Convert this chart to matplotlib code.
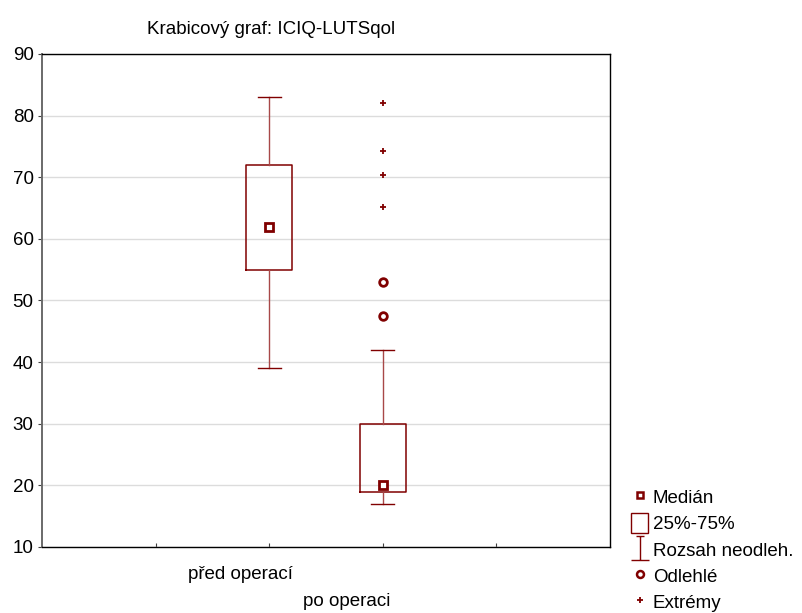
import matplotlib
matplotlib.use("Agg")
import matplotlib.pyplot as plt
from matplotlib.lines import Line2D
from matplotlib.patches import Patch
from matplotlib.path import Path

plt.rcParams["font.family"] = ["Liberation Sans", "DejaVu Sans"]
FS = 13.5
plt.rcParams["font.size"] = FS

RED = "#800000"

groups = ["před operací", "po operaci"]
positions = [2, 3]
medians = [62, 20]
q1 = [55, 19]
q3 = [72, 30]
whis_lo = [39, 17]
whis_hi = [83, 42]
outliers = [[], [53, 47.4]]
extremes = [[], [82, 74.2, 70.4, 65.2]]
label_shift = [-0.25, -0.32]
label_y = [-0.055, -0.11]

fig = plt.figure(figsize=(8.02, 6.13), dpi=100)
ax = fig.add_axes([0.0524, 0.1077, 0.7082, 0.8043])

stats = []
for i, g in enumerate(groups):
    stats.append(dict(label=g, med=medians[i], q1=q1[i], q3=q3[i],
                      whislo=whis_lo[i], whishi=whis_hi[i], fliers=[]))

ax.bxp(stats, positions=positions, widths=0.4, capwidths=0.2,
       showfliers=False,
       boxprops=dict(color=RED, linewidth=1.1),
       whiskerprops=dict(color="#a84848", linewidth=1.0),
       capprops=dict(color=RED, linewidth=1.0),
       medianprops=dict(visible=False), zorder=3)

# median markers
ax.plot(positions, medians, "s", ms=5.5, mfc="white", mec=RED, mew=2.0,
        ls="none", zorder=4)

for p, vals in zip(positions, outliers):
    ax.plot([p] * len(vals), vals, "o", ms=5.5, mfc="white", mec=RED,
            mew=2.0, ls="none", zorder=4)
for p, vals in zip(positions, extremes):
    ax.plot([p] * len(vals), vals, "+", ms=5, mec=RED, mew=1.3,
            ls="none", zorder=4)

ax.set_xlim(0, 5)
ax.set_ylim(10, 90)
ax.set_yticks(range(10, 91, 10))
ax.set_xticks([1, 2, 3, 4])
ax.set_xticklabels([])
ax.tick_params(axis="x", direction="in", length=3, color="#404040")
ax.tick_params(axis="y", direction="out", length=3, color="#404040",
               labelsize=FS, pad=3)
ax.yaxis.grid(True, color="#dcdcdc", linewidth=1.0)
ax.set_axisbelow(True)

for side in ["top", "right", "bottom"]:
    ax.spines[side].set_color("black")
    ax.spines[side].set_linewidth(1.0)
ax.spines["left"].set_color("#6a6a6a")
ax.spines["left"].set_linewidth(1.4)

for p, g, dx, yy in zip(positions, groups, label_shift, label_y):
    ax.text(p + dx, yy, g, transform=ax.get_xaxis_transform(),
            ha="center", va="center", fontsize=FS)

fig.text(271 / 802, 1 - 30 / 613, "Krabicový graf: ICIQ-LUTSqol",
         ha="center", va="center", fontsize=FS)

# legend
whisker_marker = Path(
    [(-0.35, 1), (0.35, 1), (0, 1), (0, -1), (-0.8, -1), (0.8, -1)],
    [Path.MOVETO, Path.LINETO, Path.MOVETO, Path.LINETO, Path.MOVETO, Path.LINETO],
)
handles = [
    Line2D([], [], marker="s", ms=5, mfc="white", mec=RED, mew=1.8, ls="none"),
    Patch(facecolor="white", edgecolor=RED, linewidth=1.0),
    Line2D([], [], marker=whisker_marker, ms=17, mec=RED, mew=1.0, ls="none"),
    Line2D([], [], marker="o", ms=5, mfc="white", mec=RED, mew=1.8, ls="none"),
    Line2D([], [], marker="+", ms=5, mec=RED, mew=1.3, ls="none"),
]
labels = ["Medián", "25%-75%", "Rozsah neodleh.", "Odlehlé", "Extrémy"]
fig.legend(handles, labels, loc="lower left",
           bbox_to_anchor=(620 / 802, -0.017), frameon=False,
           handlelength=0.9, handleheight=1.2, handletextpad=0.25,
           labelspacing=0.34, borderpad=0.1, fontsize=FS)

fig.savefig("out.png", dpi=100)
